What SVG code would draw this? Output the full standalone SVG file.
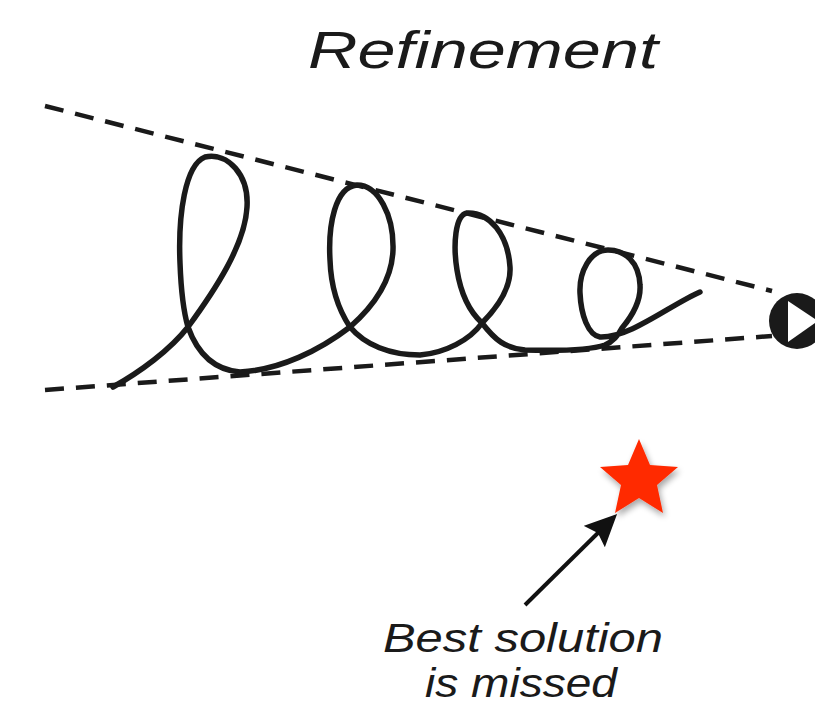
<svg xmlns="http://www.w3.org/2000/svg" width="815" height="710" viewBox="0 0 815 710">
  <style>
    .hand { font-family: "Liberation Sans", "DejaVu Sans", sans-serif; font-style: italic; fill: #1a1a1a; }
    .dash { fill: none; stroke: #1a1a1a; stroke-width: 4.5; stroke-dasharray: 19 12; }
    .spiral { fill: none; stroke: #1a1a1a; stroke-width: 5.5; stroke-linecap: round; stroke-linejoin: round; }
  </style>
  <defs>
    <marker id="arrowhead" markerWidth="36" markerHeight="32" refX="15" refY="15" orient="auto" markerUnits="userSpaceOnUse">
      <path d="M0,0 L32,15 L0,30 L5,15 Z" fill="#111"/>
    </marker>
    <filter id="shadow" x="-30%" y="-30%" width="160%" height="160%">
      <feGaussianBlur in="SourceAlpha" stdDeviation="3"/>
      <feOffset dx="2" dy="4" result="b"/>
      <feComponentTransfer><feFuncA type="linear" slope="0.35"/></feComponentTransfer>
      <feMerge><feMergeNode/><feMergeNode in="SourceGraphic"/></feMerge>
    </filter>
  </defs>
  <rect width="815" height="710" fill="#ffffff"/>

  <g id="title">
    <text class="hand" x="308" y="68" font-size="52" textLength="350" lengthAdjust="spacingAndGlyphs">Refinement</text>
  </g>

  <g id="connectors">
    <line class="dash" x1="45" y1="106" x2="772" y2="291"/>
    <line class="dash" x1="45" y1="390" x2="772" y2="336"/>
    <line x1="525" y1="605" x2="605" y2="526" stroke="#111" stroke-width="4" marker-end="url(#arrowhead)"/>
  </g>

  <g id="spiral">
    <path class="spiral" d="M113,387 C140,372 170,350 188,327 C215,290 245,245 247,207 C249,175 228,152 205,157 C185,165 178,215 180,263 C181,290 183,310 188,327 C198,355 215,370 240,372 C280,370 320,350 350,327 C375,305 392,280 393,250 C394,215 378,185 357,185 C335,187 328,225 330,260 C331,290 340,312 350,327 C365,345 390,355 420,355 C445,353 470,340 482,323 C500,305 511,285 510,267 C508,235 490,212 467,213 C455,215 453,245 457,270 C461,295 470,312 482,323 C495,340 505,348 525,350 C560,351 590,350 605,345 C612,342 618,336 622,328 C633,315 641,300 640,285 C639,262 625,250 608,250 C590,250 579,272 580,293 C581,315 588,335 600,337 C630,338 670,305 700,292"/>
  </g>

  <g id="end-marker">
    <circle cx="797" cy="321" r="28" fill="#1a1a1a"/>
    <polygon points="788,301 788,342 818,321" fill="#ffffff"/>
  </g>

  <g id="star" filter="url(#shadow)">
    <polygon points="639,439 650,465 678,467 657,485 663,513 639,498 615,513 621,485 600,467 628,465" fill="#ff2a00"/>
  </g>

  <g id="label">
    <text class="hand" x="383" y="652" font-size="40" textLength="280" lengthAdjust="spacingAndGlyphs">Best solution</text>
    <text class="hand" x="425" y="697" font-size="40" textLength="192" lengthAdjust="spacingAndGlyphs">is missed</text>
  </g>
</svg>
